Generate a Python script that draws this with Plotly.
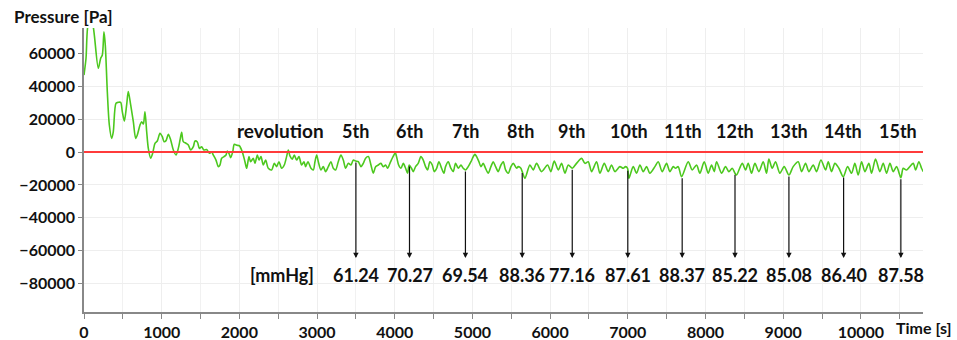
import plotly.graph_objects as go

# ---------------- data ----------------
time_s = [
    0, 26, 55, 90, 112, 133, 184, 215, 236, 257, 274, 300, 326, 356, 377, 412, 442, 472, 493, 519,
    549, 570, 601, 635, 665, 686, 721, 742, 764, 785, 807, 828, 858, 884, 914, 944, 978, 1008, 1030, 1056,
    1085, 1116, 1150, 1184, 1214, 1236, 1257, 1278, 1313, 1343, 1373, 1407, 1429, 1459, 1485, 1514, 1544, 1579, 1613, 1643,
    1664, 1699, 1729, 1750, 1772, 1802, 1828, 1845, 1866, 1888, 1914, 1935, 1965, 2000, 2038, 2072, 2094, 2124, 2145, 2179,
    2201, 2231, 2253, 2278, 2308, 2338, 2372, 2416, 2449, 2479, 2510, 2544, 2578, 2608, 2630, 2651, 2681, 2707, 2737, 2767,
    2801, 2831, 2853, 2883, 2922, 2952, 2973, 2995, 3016, 3050, 3080, 3110, 3145, 3179, 3209, 3239, 3273, 3308, 3338, 3368,
    3402, 3436, 3467, 3497, 3531, 3565, 3595, 3625, 3660, 3694, 3724, 3754, 3788, 3822, 3852, 3883, 3908, 3938, 3968, 3994,
    4007, 4028, 4050, 4080, 4110, 4140, 4165, 4186, 4216, 4238, 4268, 4302, 4337, 4367, 4397, 4423, 4453, 4483, 4509, 4539,
    4569, 4603, 4633, 4654, 4689, 4723, 4753, 4783, 4818, 4852, 4882, 4912, 4946, 4981, 5011, 5032, 5054, 5084, 5109, 5139,
    5169, 5204, 5238, 5268, 5298, 5332, 5367, 5397, 5427, 5461, 5496, 5526, 5569, 5590, 5624, 5641, 5676, 5740, 5783, 5826,
    5890, 5967, 6010, 6053, 6105, 6148, 6191, 6234, 6285, 6340, 6405, 6448, 6491, 6534, 6598, 6641, 6697, 6748, 6791, 6834,
    6898, 6941, 6971, 6997, 7014, 7070, 7113, 7156, 7199, 7242, 7284, 7349, 7392, 7443, 7499, 7542, 7585, 7615, 7649, 7692,
    7778, 7829, 7885, 7928, 7984, 8035, 8078, 8113, 8143, 8207, 8258, 8301, 8344, 8380, 8400, 8473, 8516, 8550, 8593, 8636,
    8687, 8743, 8786, 8816, 8859, 8902, 8958, 9013, 9074, 9129, 9194, 9237, 9288, 9331, 9387, 9430, 9486, 9546, 9580, 9623,
    9666, 9717, 9773, 9829, 9880, 9923, 9966, 10009, 10052, 10103, 10138, 10189, 10245, 10288, 10331, 10374, 10417, 10460, 10515, 10545,
    10588, 10674, 10704, 10747, 10781, 10803,
]
pressure_pa = [
    46800, 57000, 78000, 80000, 78000, 71100, 50900, 57000, 59000, 73100, 65000, 36700, 16400, 8300, 12300, 29600, 30200, 30200, 24500, 18800,
    28600, 36700, 28600, 18400, 8300, 10300, 16400, 18400, 17000, 24500, 12300, 2200, -3800, -800, 5300, 6700, 11400, 9300, 6300, 6900,
    10700, 7300, 1200, -1800, 2200, 7300, 12000, 6300, 5300, 4300, 1200, 3200, 6700, 6100, 2200, 3200, 1200, 1500, -800, 0,
    -1800, -4900, -8900, -7900, -3800, -2800, -1800, 600, -800, -3400, 0, 4700, 4100, 3800, 0, -5900, -9900, -2800, -5900, -3800,
    -6900, -1800, -4900, -2800, -7900, -4900, -9900, -10900, -6900, -8900, -5900, -9900, -7900, -2800, 1200, -2400, -4300, -1800, -4900, -2800,
    -7900, -5900, -8900, -5900, -9900, -10900, -5900, -1800, -5900, -10900, -8900, -11900, -8900, -5900, -9900, -10900, -5900, -1800, -4900, -9900,
    -6900, -7900, -4900, -5500, -5900, -8900, -6900, -3800, -2800, -7900, -12900, -8900, -7900, -6900, -8900, -7900, -9900, -6900, -3800, -1400,
    -400, -3800, -7900, -9900, -6900, -9900, -12900, -7900, -9900, -11900, -8900, -6900, -2800, -4900, -8900, -10900, -5900, -7900, -11900, -9900,
    -5900, -9900, -12900, -8900, -5900, -9900, -11900, -6900, -9900, -7900, -9900, -10900, -8900, -5900, -2800, -1400, -2800, -5900, -8900, -6900,
    -9900, -12900, -8900, -5900, -8900, -11900, -7900, -5900, -10900, -12900, -8900, -6900, -9900, -8900, -9900, -11900, -16000, -7900, -10900, -6900,
    -11900, -7900, -11900, -5500, -10900, -6900, -12900, -7900, -9900, -6900, -3900, -6900, -5900, -11900, -5900, -12900, -6900, -11900, -7900, -11900,
    -8900, -9900, -8900, -9900, -16000, -8900, -12900, -7900, -11900, -8900, -12900, -8900, -5900, -11900, -6900, -11900, -8900, -9900, -8900, -15000,
    -5900, -10900, -7900, -12900, -5900, -12900, -7900, -11900, -5900, -12900, -8900, -11900, -9900, -12900, -14000, -6900, -10900, -6900, -12900, -6900,
    -11900, -5900, -12900, -4300, -9900, -5900, -12900, -8900, -14000, -8900, -5900, -11900, -6900, -11900, -7900, -11900, -4900, -10900, -5900, -11900,
    -6900, -9900, -15000, -8900, -12900, -6900, -14000, -5900, -11900, -6900, -12900, -4300, -11900, -6900, -12900, -6900, -11900, -8900, -15600, -9900,
    -10900, -6900, -10900, -5900, -9900, -11900,
]
reference_pa = 0

revolution_labels = ["revolution", "5th", "6th", "7th", "8th", "9th", "10th", "11th", "12th", "13th", "14th", "15th"]
revolution_times = [2523, 3490, 4190, 4916, 5625, 6280, 7014, 7710, 8380, 9073, 9768, 10476]

arrow_times = [3500, 4190, 4910, 5641, 6285, 7000, 7700, 8380, 9074, 9778, 10515]
arrow_tops = [-5500, -7900, -10900, -11900, -9900, -10500, -15000, -12900, -14000, -14600, -15600]

mmhg_unit = "[mmHg]"
mmhg_unit_time = 2550
mmhg_values = ["61.24", "70.27", "69.54", "88.36", "77.16", "87.61", "88.37", "85.22", "85.08", "86.40", "87.58"]

x_ticks = [0, 1000, 2000, 3000, 4000, 5000, 6000, 7000, 8000, 9000, 10000]
y_ticks = [-80000, -60000, -40000, -20000, 0, 20000, 40000, 60000]

# ---------------- figure ----------------
FONT = "Lato"
LABEL_Y = 12800
ARROW_TIP = -64500
VALUE_Y = -74800

fig = go.Figure()
fig.add_trace(go.Scatter(
    x=time_s, y=pressure_pa, mode="lines",
    line=dict(color="#4cc81e", width=1.6, shape="spline", smoothing=0.8),
    showlegend=False, hoverinfo="skip",
))
fig.add_hline(y=reference_pa, line_color="#ff3b3b", line_width=2)

annotations = []
for lab, t in zip(revolution_labels, revolution_times):
    annotations.append(dict(x=t, y=LABEL_Y, xref="x", yref="y", text=lab, showarrow=False,
                            font=dict(family=FONT, size=19 if lab == "revolution" else 18,
                                      color="#111111", weight="bold")))
for t, top in zip(arrow_times, arrow_tops):
    annotations.append(dict(x=t, y=ARROW_TIP, ax=t, ay=top, xref="x", yref="y", axref="x", ayref="y",
                            text="", showarrow=True, arrowhead=2, arrowsize=0.9, arrowwidth=1.2,
                            arrowcolor="#111111"))
for t, v in zip(arrow_times, mmhg_values):
    annotations.append(dict(x=t, y=VALUE_Y, xref="x", yref="y", text=v, showarrow=False,
                            font=dict(family=FONT, size=18, color="#111111", weight="bold")))
annotations.append(dict(x=mmhg_unit_time, y=VALUE_Y, xref="x", yref="y", text=mmhg_unit, showarrow=False,
                        font=dict(family=FONT, size=18, color="#111111", weight="bold")))
annotations.append(dict(x=-0.086, y=1.042, xref="paper", yref="paper", text="Pressure [Pa]",
                        xanchor="left", yanchor="middle", showarrow=False,
                        font=dict(family=FONT, size=17, color="#111111", weight="bold")))
annotations.append(dict(x=0.965, y=-0.053, xref="paper", yref="paper", text="Time [s]",
                        xanchor="left", yanchor="middle", showarrow=False,
                        font=dict(family=FONT, size=16, color="#111111", weight="bold")))

fig.update_layout(
    width=957, height=340,
    margin=dict(l=84, r=34, t=28, b=28, autoexpand=False),
    paper_bgcolor="white", plot_bgcolor="white",
    font=dict(family=FONT, size=16, color="#111111", weight="bold"),
    annotations=annotations,
)
fig.update_xaxes(
    range=[0, 10800], tickvals=x_ticks, tickformat="d", showline=True, linecolor="#888888", linewidth=1.5,
    ticks="outside", ticklen=5, tickcolor="#888888", showgrid=True, gridcolor="#eeeeee",
    minor=dict(dtick=500, tick0=0, ticks="outside", ticklen=5, tickcolor="#888888", showgrid=True, gridcolor="#f1f1f1"),
    zeroline=False, automargin=False,
)
fig.update_yaxes(
    range=[-97260, 75380], tickvals=y_ticks, tickformat="d", showline=True, linecolor="#888888", linewidth=1.5,
    ticks="outside", ticklen=4, tickcolor="#888888", showgrid=True, gridcolor="#eeeeee",
    zeroline=False, automargin=False,
)

fig.write_html("out.html", config={"displayModeBar": False},
               post_script="document.body.style.margin='0px';document.body.style.overflow='hidden';")
